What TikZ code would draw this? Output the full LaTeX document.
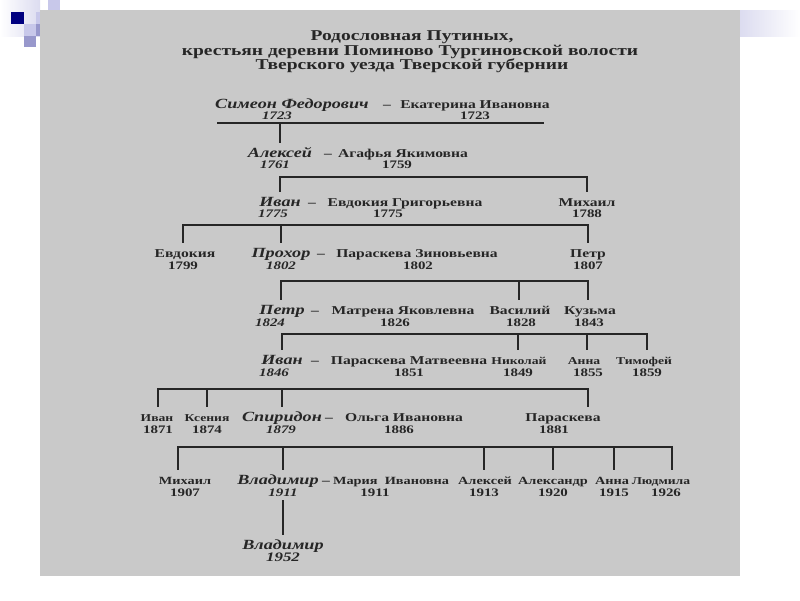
\documentclass[tikz,border=0pt]{standalone}
\usepackage{fontspec}
\setmainfont{Liberation Serif}[FakeStretch=1.3]
\definecolor{inkc}{HTML}{262626}
\definecolor{paper}{HTML}{C9C9C9}
\definecolor{navy}{HTML}{000080}
\definecolor{lav}{HTML}{C8C8EA}
\definecolor{lavm}{HTML}{9898CC}
\definecolor{lavb}{HTML}{DCDCF0}
\newcommand\famdrop[3]{\draw[tree] ([xshift=#2]#1.north) -- ([xshift=#2]#1.north |- #3);}
\begin{document}
\begin{tikzpicture}[x=1pt,y=-1pt,
  ttl/.style={font=\fontsize{15}{15}\selectfont\bfseries, text=inkc, text height=7pt, text depth=0pt, inner sep=0pt},
  nm/.style={font=\fontsize{12}{12}\selectfont\bfseries, text=inkc, text height=8pt, text depth=0pt, inner xsep=1pt, inner ysep=7pt},
  sm/.style={nm, font=\fontsize{10.5}{10.5}\selectfont\bfseries},
  sb/.style={nm, font=\fontsize{11}{11}\selectfont\bfseries},
  sc/.style={nm, font=\fontsize{10.5}{10.5}\selectfont\bfseries},
  mn/.style={font=\fontsize{14}{14}\selectfont\bfseries\itshape, text=inkc, text height=9pt, text depth=0pt, inner xsep=1pt, inner ysep=6.5pt},
  yr/.style={font=\fontsize{11.5}{11.5}\selectfont\bfseries, text=inkc, text height=7.5pt, text depth=0pt, inner sep=4pt},
  myr/.style={yr, font=\fontsize{11.5}{11.5}\selectfont\bfseries\itshape},
  tree/.style={draw=inkc, line width=1.6pt, line cap=rect},
]
\useasboundingbox (0,0) rectangle (800,600);
\fill[white] (0,0) rectangle (800,600);
% slide decoration
\shade[left color=white, right color=lavb] (0,0) rectangle (40,36);
\shade[left color=lavb, right color=white] (740,10) rectangle (800,36);
\fill[navy] (11,12) rectangle (24,24);
\fill[lav] (24,24) rectangle (36,36);
\fill[lavm] (24,36) rectangle (36,47);
\fill[lav] (36,12) rectangle (48,24);
\fill[lavm] (36,24) rectangle (48,36);
\fill[lav] (48,0) rectangle (60,10);
% scanned page
\fill[paper] (40,10) rectangle (740,576);

% title
\node[ttl] (t1) at (412,37) {Родословная Путиных,};
\node[ttl] (t2) at (410,52) {крестьян деревни Поминово Тургиновской волости};
\node[ttl] (t3) at (412,66) {Тверского уезда Тверской губернии};

% row 1
\node[mn] (simeon) at (292,104) {Симеон Федорович};
\node[nm] (dash1) at (387,104) {–};
\node[nm] (ekat) at (475,104) {Екатерина Ивановна};
\node[myr] (ys1) at (277,116) {1723};
\node[yr] (ye1) at (475,116) {1723};
\coordinate (b1L) at (218,123);
\coordinate (b1R) at (543,123);

% row 2
\node[mn] (alex) at (280,153) {Алексей};
\node[nm] (dash2) at (328,153) {–};
\node[nm] (agaf) at (403,153) {Агафья Якимовна};
\node[myr] (ya2) at (275,165) {1761};
\node[yr] (yg2) at (397,165) {1759};
\coordinate (b2) at (0,177);

% row 3
\node[mn] (ivan3) at (280,202) {Иван};
\node[nm] (dash3) at (312,202) {–};
\node[nm] (evd3) at (405,202) {Евдокия Григорьевна};
\node[nm] (mikh3) at (587,202) {Михаил};
\node[myr] (yi3) at (273,214) {1775};
\node[yr] (ye3) at (388,214) {1775};
\node[yr] (ym3) at (587,214) {1788};
\coordinate (b3) at (0,225);

% row 4
\node[nm] (evd4) at (185,253) {Евдокия};
\node[yr] (yev4) at (183,266) {1799};
\node[mn] (proh) at (281,253) {Прохор};
\node[nm] (dash4) at (321,253) {–};
\node[nm] (par4) at (417,253) {Параскева Зиновьевна};
\node[myr] (yp4) at (281,266) {1802};
\node[yr] (ypar4) at (418,266) {1802};
\node[nm] (petr4) at (588,253) {Петр};
\node[yr] (ypt4) at (588,266) {1807};
\coordinate (b4) at (0,281);

% row 5
\node[mn] (petr5) at (282,310) {Петр};
\node[nm] (dash5) at (315,310) {–};
\node[nm] (matr) at (403,310) {Матрена Яковлевна};
\node[nm] (vas) at (520,310) {Василий};
\node[nm] (kuz) at (590,310) {Кузьма};
\node[myr] (yp5) at (270,323) {1824};
\node[yr] (ym5) at (395,323) {1826};
\node[yr] (yv5) at (521,323) {1828};
\node[yr] (yk5) at (589,323) {1843};
\coordinate (b5) at (0,334);

% row 6
\node[mn] (ivan6) at (282,360) {Иван};
\node[nm] (dash6) at (315,360) {–};
\node[nm] (par6) at (409,360) {Параскева Матвеевна};
\node[sc] (nik) at (519,360) {Николай};
\node[sc] (anna6) at (584,360) {Анна};
\node[sc] (tim) at (644,360) {Тимофей};
\node[myr] (yi6) at (274,373) {1846};
\node[yr] (ypa6) at (409,373) {1851};
\node[yr] (yn6) at (518,373) {1849};
\node[yr] (yan6) at (588,373) {1855};
\node[yr] (yt6) at (647,373) {1859};
\coordinate (b6) at (0,389);

% row 7
\node[sm] (ivan7) at (157,417) {Иван};
\node[sm] (ks) at (207,417) {Ксения};
\node[mn] (spir) at (282,417) {Спиридон};
\node[nm] (dash7) at (329,417) {–};
\node[nm] (olga) at (404,417) {Ольга Ивановна};
\node[nm] (par7) at (563,417) {Параскева};
\node[yr] (yi7) at (158,430) {1871};
\node[yr] (yk7) at (207,430) {1874};
\node[myr] (ys7) at (281,430) {1879};
\node[yr] (yo7) at (399,430) {1886};
\node[yr] (yp7) at (554,430) {1881};
\coordinate (b7) at (0,447);

% row 8
\node[sb] (mikh8) at (185,480) {Михаил};
\node[mn] (vlad8) at (278,480) {Владимир};
\node[nm] (dash8) at (326,480) {–};
\node[sb] (mar) at (391,480) {Мария\ \ Ивановна};
\node[sb] (alex8) at (485,480) {Алексей};
\node[sb] (alexr) at (553,480) {Александр};
\node[sb] (anna8) at (612,480) {Анна};
\node[sc] (lud) at (661,480) {Людмила};
\node[yr] (ym8) at (185,493) {1907};
\node[myr] (yv8) at (283,493) {1911};
\node[yr] (yma8) at (375,493) {1911};
\node[yr] (ya8) at (484,493) {1913};
\node[yr] (yar8) at (553,493) {1920};
\node[yr] (yan8) at (614,493) {1915};
\node[yr] (yl8) at (666,493) {1926};

% row 9
\node[mn] (vlad9) at (283,545) {Владимир};
\node[myr, font=\fontsize{13}{13}\selectfont\bfseries\itshape] (yv9) at (283,558) {1952};

% connectors
\draw[tree] (b1L) -- (b1R);
\famdrop{alex}{0pt}{b1L}

\draw[tree] (ivan3.north |- b2) -- (mikh3.north |- b2);
\famdrop{ivan3}{0pt}{b2}
\famdrop{mikh3}{0pt}{b2}

\draw[tree] ([xshift=-2pt]evd4.north |- b3) -- (petr4.north |- b3);
\famdrop{evd4}{-2pt}{b3}
\famdrop{proh}{0pt}{b3}
\famdrop{petr4}{0pt}{b3}

\draw[tree] ([xshift=-1pt]petr5.north |- b4) -- ([xshift=-2pt]kuz.north |- b4);
\famdrop{petr5}{-1pt}{b4}
\famdrop{vas}{-1pt}{b4}
\famdrop{kuz}{-2pt}{b4}

\draw[tree] (ivan6.north |- b5) -- ([xshift=3pt]tim.north |- b5);
\famdrop{ivan6}{0pt}{b5}
\famdrop{nik}{-1pt}{b5}
\famdrop{anna6}{3pt}{b5}
\famdrop{tim}{3pt}{b5}

\draw[tree] ([xshift=1pt]ivan7.north |- b6) -- ([xshift=25pt]par7.north |- b6);
\famdrop{ivan7}{1pt}{b6}
\famdrop{ks}{0pt}{b6}
\famdrop{spir}{0pt}{b6}
\famdrop{par7}{25pt}{b6}

\draw[tree] ([xshift=-7pt]mikh8.north |- b7) -- ([xshift=11pt]lud.north |- b7);
\famdrop{mikh8}{-7pt}{b7}
\famdrop{vlad8}{5pt}{b7}
\famdrop{alex8}{-1pt}{b7}
\famdrop{alexr}{0pt}{b7}
\famdrop{anna8}{2pt}{b7}
\famdrop{lud}{11pt}{b7}

\draw[tree] (yv8.south) -- (vlad9.north);
\end{tikzpicture}
\end{document}
